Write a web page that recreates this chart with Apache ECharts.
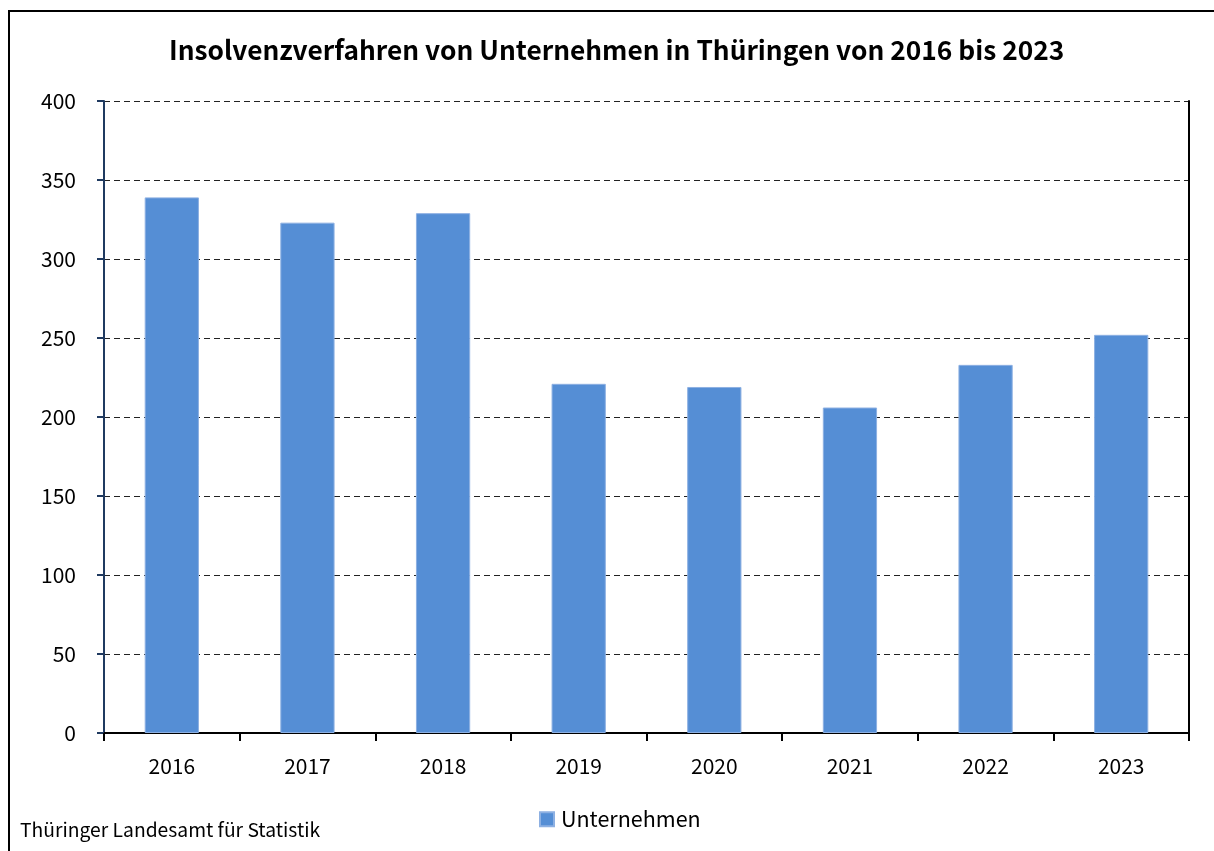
<!DOCTYPE html>
<html>
<head>
<meta charset="utf-8">
<script src="https://cdn.jsdelivr.net/npm/echarts@6/dist/echarts.min.js"></script>
<style>
  html, body { margin: 0; padding: 0; background: #fff; }
  #chart { width: 1214px; height: 851px; }
</style>
</head>
<body>
<div id="chart"></div>
<script>
var years = ['2016', '2017', '2018', '2019', '2020', '2021', '2022', '2023'];
var unternehmen = [339, 323, 329, 221, 219, 206, 233, 252];

var font = '"Noto Sans CJK SC", "Source Sans Pro", sans-serif';

var option = {
    backgroundColor: '#fff',
    textStyle: { fontFamily: font },
    title: {
        text: 'Insolvenzverfahren von Unternehmen in Thüringen von 2016 bis 2023',
        left: 164,
        top: 32,
        textStyle: { fontFamily: font, fontSize: 26.3, fontWeight: 'bold', color: '#000' }
    },
    legend: {
        bottom: 16,
        left: 534,
        itemWidth: 14,
        itemHeight: 14,
        itemGap: 6,
        icon: 'rect',
        data: ['Unternehmen'],
        textStyle: { fontFamily: font, fontSize: 21.5, color: '#000', padding: [0, 0, 0, 2] }
    },
    grid: { left: 104, right: 25, top: 101, bottom: 118 },
    xAxis: {
        type: 'category',
        data: years,
        axisLine: { lineStyle: { color: '#000', width: 2 } },
        axisTick: { show: true, length: 8, lineStyle: { color: '#000', width: 2 } },
        axisLabel: { fontSize: 21, color: '#000', margin: 23, fontFamily: font }
    },
    yAxis: [{
        type: 'value',
        min: 0,
        max: 400,
        interval: 50,
        axisLine: { show: true, lineStyle: { color: '#1f3a60', width: 2 } },
        axisTick: { show: true, length: 7, lineStyle: { color: '#1f3a60', width: 2 } },
        axisLabel: { fontSize: 21, color: '#000', margin: 28, fontFamily: font },
        splitLine: { show: true, lineStyle: { color: '#222', type: [6, 4], width: 1 } }
    }, {
        type: 'value',
        position: 'right',
        min: 0,
        max: 400,
        interval: 50,
        axisLine: { show: true, lineStyle: { color: '#000', width: 2 } },
        axisTick: { show: false },
        axisLabel: { show: false },
        splitLine: { show: false }
    }],
    series: [{
        name: 'Unternehmen',
        type: 'bar',
        data: unternehmen,
        barCategoryGap: '60%',
        itemStyle: { color: '#558ed5', borderColor: '#8db0e2', borderWidth: 1 }
    }],
    graphic: [{
        type: 'rect',
        shape: { x: 9, y: 11, width: 1230, height: 900 },
        style: { fill: 'none', stroke: '#000', lineWidth: 2 },
        silent: true
    }, {
        type: 'text',
        left: 20,
        top: 820,
        style: { text: 'Thüringer Landesamt für Statistik', font: '19.3px ' + font, fill: '#000' }
    }]
};

var myChart = echarts.init(document.getElementById('chart'));
myChart.setOption(option);
</script>
</body>
</html>
